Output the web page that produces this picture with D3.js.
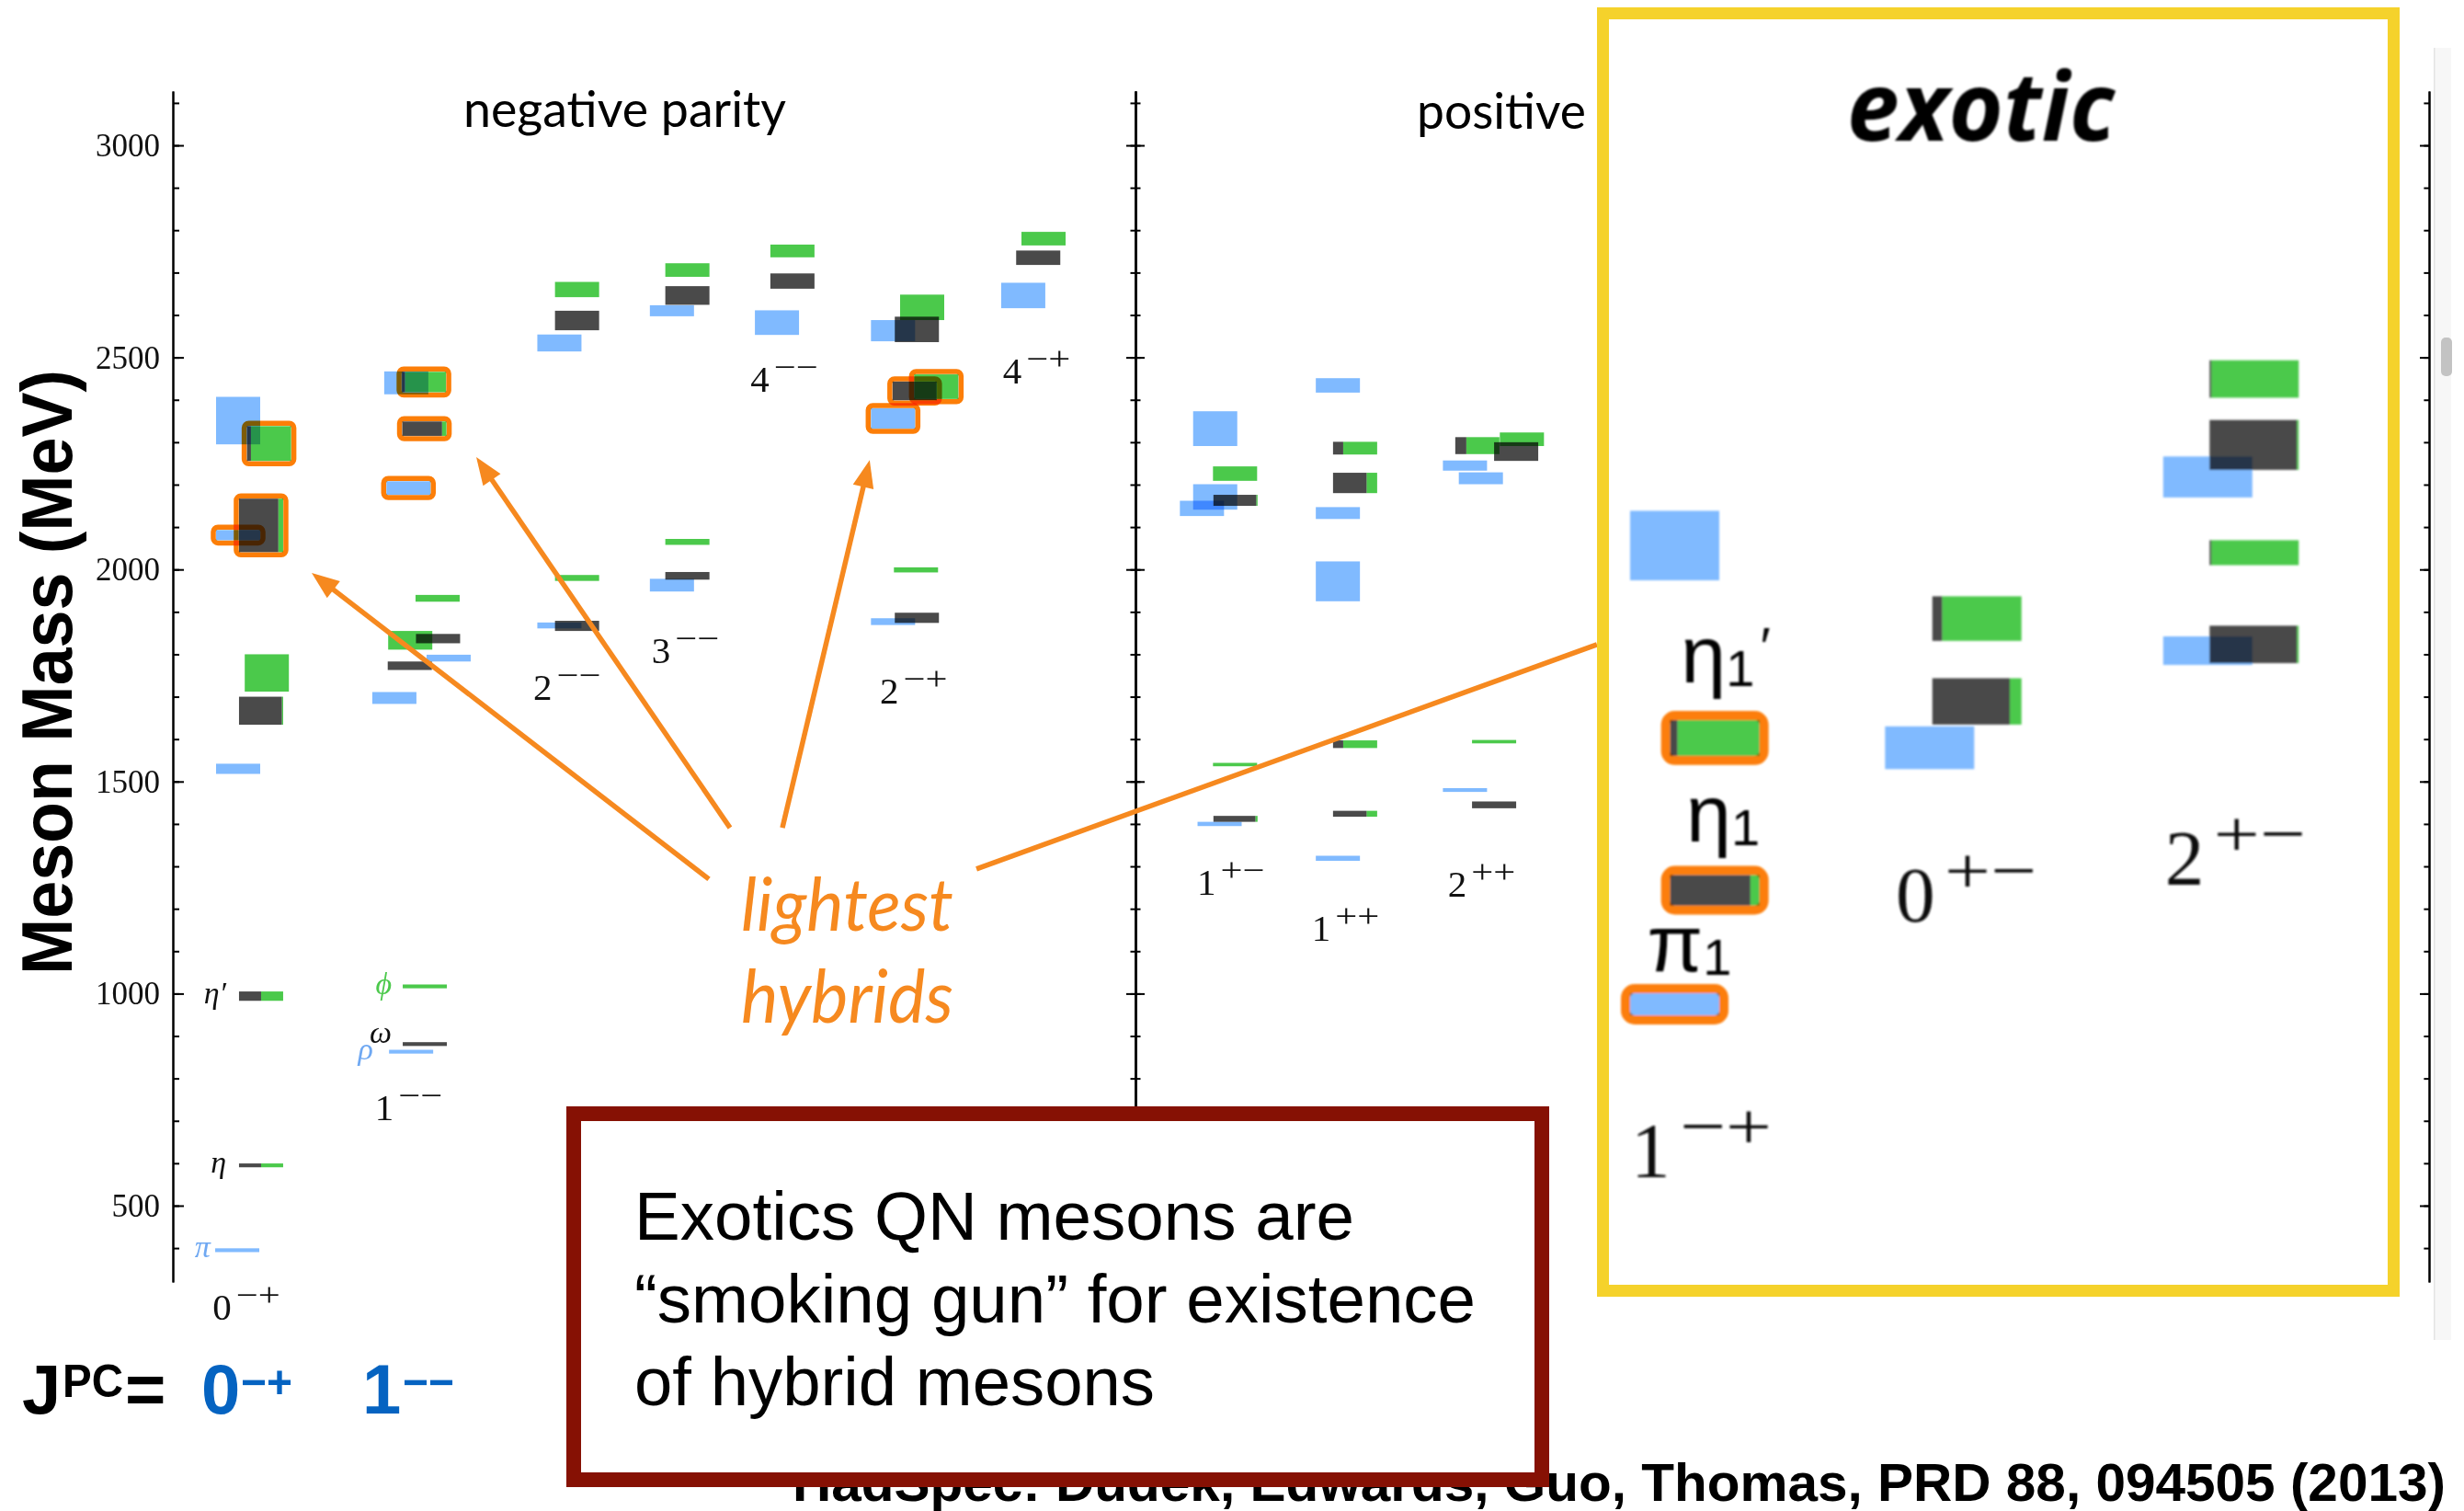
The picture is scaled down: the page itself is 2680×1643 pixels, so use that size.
<!DOCTYPE html>
<html><head><meta charset="utf-8">
<script src="https://cdn.jsdelivr.net/npm/d3@7"></script>
<style>html,body{margin:0;padding:0;background:#fff}svg{display:block}</style>
</head><body>
<svg id="c" width="2680" height="1643"></svg>
<script>
// ---------------- DATA ----------------
const columns   = ["0-+","1--","2--","3--","4--","2-+","4-+","1+-","1++","2++"];
const columnJ   = ["0","1","2","3","4","2","4","1","1","2"];
const columnPC  = ["\u2212+","\u2212\u2212","\u2212\u2212","\u2212\u2212","\u2212\u2212","\u2212+","\u2212+","+\u2212","++","++"];
const columnPos = [0, 3.54, 7.28, 9.83, 12.21, 14.84, 17.79, 21.84, 24.92, 27.80];
const labelMass = [231, 701, 1692, 1779, 2419, 1683, 2438, 1232, 1124, 1228];
const labelLane = [-0.58, -0.44, -0.59, -0.46, -0.6, -0.3, -0.46, -0.11, -0.59, -0.39];
const massTicksMajor = [500, 1000, 1500, 2000, 2500, 3000];
const massTicksMinor = d3.range(400, 3101, 100);

// isovector states (blue): column, mass (MeV), half-height (MeV), lane, hybrid
const isovectors = [
  {c:"0-+", m:395,  e:4.5, lane:-0.02}, {c:"0-+", m:1530, e:12, lane:0},
  {c:"0-+", m:2081, e:12, lane:0, h:1},  {c:"0-+", m:2351, e:56, lane:0},
  {c:"1--", m:863,  e:4.5, lane:0.38},  {c:"1--", m:1697, e:14, lane:0},
  {c:"1--", m:1791, e:8, lane:1.23},    {c:"1--", m:2192, e:16, lane:0.32, h:1},
  {c:"1--", m:2440, e:27, lane:0.27},
  {c:"2--", m:1868, e:7, lane:0},       {c:"2--", m:2534, e:20, lane:0},
  {c:"3--", m:1963, e:15, lane:0},      {c:"3--", m:2610, e:13, lane:0},
  {c:"4--", m:2582, e:29, lane:0},
  {c:"2-+", m:1877, e:8, lane:0},       {c:"2-+", m:2356, e:24, lane:0, h:1},
  {c:"2-+", m:2563, e:25, lane:0},
  {c:"4-+", m:2646, e:30, lane:0},
  {c:"1+-", m:1400, e:5, lane:0.4},     {c:"1+-", m:2144, e:18, lane:0},
  {c:"1+-", m:2171, e:30, lane:0.3},    {c:"1+-", m:2332, e:41, lane:0.3},
  {c:"1++", m:1319, e:6, lane:0},       {c:"1++", m:1972, e:47, lane:0},
  {c:"1++", m:2133, e:14, lane:0},      {c:"1++", m:2434, e:17, lane:0},
  {c:"2++", m:1480, e:4.5, lane:0},     {c:"2++", m:2215, e:14, lane:0.36},
  {c:"2++", m:2245, e:12, lane:0}
];
// isoscalar states: light-quark fraction f (dark) vs strange (green)
const isoscalars = [
  {c:"0-+", m:595,  e:4.5, f:0.5, lane:0.52}, {c:"0-+", m:994,  e:11, f:0.5, lane:0.52},
  {c:"0-+", m:1667, e:33, f:0.97, lane:0.52}, {c:"0-+", m:1756, e:44, f:0, lane:0.65},
  {c:"0-+", m:2104, e:63, f:0.89, lane:0.52, h:1}, {c:"0-+", m:2297, e:41, f:0.09, lane:0.7, h:1},
  {c:"1--", m:881,  e:4.5, f:1, lane:0.69},   {c:"1--", m:1017, e:4.5, f:0, lane:0.69},
  {c:"1--", m:1773, e:10, f:1, lane:0.35},    {c:"1--", m:1833, e:22, f:0, lane:0.36},
  {c:"1--", m:1837, e:11, f:1, lane:0.99},    {c:"1--", m:1932, e:8, f:0, lane:0.98},
  {c:"1--", m:2332, e:17, f:0.9, lane:0.68, h:1}, {c:"1--", m:2442, e:24, f:0.07, lane:0.67, h:1},
  {c:"2--", m:1867, e:12, f:1, lane:0.4},     {c:"2--", m:1980, e:7, f:0, lane:0.4},
  {c:"2--", m:2587, e:23, f:1, lane:0.4},     {c:"2--", m:2660, e:18, f:0, lane:0.4},
  {c:"3--", m:1985, e:9, f:1, lane:0.35},     {c:"3--", m:2065, e:7, f:0, lane:0.35},
  {c:"3--", m:2646, e:22, f:1, lane:0.35},    {c:"3--", m:2706, e:16, f:0, lane:0.35},
  {c:"4--", m:2680, e:18, f:1, lane:0.35},    {c:"4--", m:2751, e:15, f:0, lane:0.35},
  {c:"2-+", m:1886, e:12, f:1, lane:0.54},    {c:"2-+", m:1999, e:6, f:0, lane:0.52},
  {c:"2-+", m:2421, e:22, f:1, lane:0.49, h:1}, {c:"2-+", m:2431, e:29, f:0, lane:0.98, h:1},
  {c:"2-+", m:2566, e:30, f:1, lane:0.54},    {c:"2-+", m:2618, e:30, f:0, lane:0.66},
  {c:"4-+", m:2735, e:17, f:1, lane:0.34},    {c:"4-+", m:2780, e:16, f:0, lane:0.46},
  {c:"1+-", m:1412, e:7, f:0.95, lane:0.76},  {c:"1+-", m:1540, e:4, f:0, lane:0.75},
  {c:"1+-", m:2163, e:13, f:0.97, lane:0.76}, {c:"1+-", m:2226, e:17, f:0, lane:0.75},
  {c:"1++", m:1424, e:7, f:0.76, lane:0.39},  {c:"1++", m:1588, e:9, f:0.23, lane:0.39},
  {c:"1++", m:2204, e:24, f:0.76, lane:0.39}, {c:"1++", m:2286, e:15, f:0.23, lane:0.39},
  {c:"2++", m:1445, e:8, f:1, lane:0.66},     {c:"2++", m:1594, e:4, f:0, lane:0.66},
  {c:"2++", m:2278, e:22, f:1, lane:1.16},    {c:"2++", m:2292, e:20, f:0.25, lane:0.28},
  {c:"2++", m:2307, e:16, f:0, lane:1.29}
];
const groundLabels = [
  {t:"\u03c0", c:"0-+", m:395,  lane:-0.63, col:"#6fa8f2"},
  {t:"\u03b7", c:"0-+", m:595,  lane:-0.27, col:"#111"},
  {t:"\u03b7\u2032", c:"0-+", m:994, lane:-0.27, col:"#111"},
  {t:"\u03c1", c:"1--", m:863,  lane:-0.48, col:"#6fa8f2"},
  {t:"\u03c9", c:"1--", m:881,  lane:-0.06, col:"#111", raised:1},
  {t:"\u03d5", c:"1--", m:1017, lane:-0.06, col:"#4cc94c"}
];

// exotic inset (magnified)
const exoticColumns = ["1-+","0+-","2+-"];
const exoticJ   = ["1","0","2"];
const exoticPC  = ["\u2212+","+\u2212","+\u2212"];
const exoticPos = [0, 2.86, 5.98];
const exoticLabelMass = [1816, 2103, 2144];
const exoticLabelLane = [-0.49, -0.38, -0.48];
const exoticVectors = [
  {c:"1-+", m:2010, e:12.4, lane:0, h:1}, {c:"1-+", m:2525, e:39, lane:0},
  {c:"0+-", m:2298, e:24, lane:0},
  {c:"2+-", m:2407, e:16, lane:0}, {c:"2+-", m:2602, e:23, lane:0}
];
const exoticScalars = [
  {c:"1-+", m:2138, e:17, f:0.9, lane:0.45, h:1}, {c:"1-+", m:2309, e:20, f:0.08, lane:0.45, h:1},
  {c:"0+-", m:2350, e:26, f:0.87, lane:0.53},    {c:"0+-", m:2443, e:25, f:0.11, lane:0.53},
  {c:"2+-", m:2414, e:21, f:0.98, lane:0.52},    {c:"2+-", m:2517, e:14, f:0.02, lane:0.52},
  {c:"2+-", m:2638, e:28, f:0.98, lane:0.52},    {c:"2+-", m:2712, e:21, f:0.02, lane:0.52}
];
const exoticNames = [
  {t:"\u03b7", sub:"1", prime:true,  c:"1-+", m:2371, lane:0.07},
  {t:"\u03b7", sub:"1", prime:false, c:"1-+", m:2193, lane:0.13},
  {t:"\u03c0", sub:"1", prime:false, c:"1-+", m:2047, lane:-0.31}
];
// annotation arrows: [fromLane, fromMass, toLane, toMass, arrowhead]
const arrows = [
  [10.667, 1270, 1.667, 1992, 1],
  [11.146, 1391, 5.396, 2265, 1],
  [12.333, 1391, 14.31, 2258, 1],
  [16.73, 1294, 30.79, 1823, 0]
];

// ---------------- STYLE ----------------
const BLUE="#80baff", DARK="#4a4a4a", GREEN="#4bc94b", ORANGE="#fc7e08", ARROW="#f6891f";
const SERIF="'Liberation Serif','DejaVu Serif',serif";
const SANS="'Liberation Sans',Arial,sans-serif";

const svg = d3.select("#c");
const y = d3.scaleLinear().domain([320, 3128]).range([1394, 99]);
const x = d3.scaleLinear().domain([0, 1]).range([259, 307]);
const mag = 2.02;
const ey = d3.scaleLinear().domain([2010, 3010]).range([1092, 1092 - 1000 * 0.4612 * 2.1]);
const ex = d3.scaleLinear().domain([0, 1]).range([1821.5, 1821.5 + 48 * mag]);

function posOf(c){ const i = columns.indexOf(c); return i >= 0 ? columnPos[i] : exoticPos[exoticColumns.indexOf(c)]; }

function bars(g, xs, ys, vecs, scals, pad, sw, rx){
  const geom = d => {
    const p = posOf(d.c) + d.lane;
    const x0 = xs(p - 0.5), x1 = xs(p + 0.5);
    const y0 = ys(d.m + d.e), y1 = ys(d.m - d.e);
    return {x0, x1, y0, h: Math.max(y1 - y0, 1.5)};
  };
  g.selectAll(null).data(vecs).join("rect")
    .attr("x", d => geom(d).x0).attr("y", d => geom(d).y0)
    .attr("width", d => geom(d).x1 - geom(d).x0).attr("height", d => geom(d).h)
    .attr("fill", BLUE).style("mix-blend-mode", "multiply");
  scals.forEach(d => {
    const q = geom(d), w = q.x1 - q.x0;
    if (d.f > 0) g.append("rect").attr("x", q.x0).attr("y", q.y0).attr("width", w * d.f).attr("height", q.h)
      .attr("fill", DARK).style("mix-blend-mode", "multiply");
    if (d.f < 1) g.append("rect").attr("x", q.x0 + w * d.f).attr("y", q.y0).attr("width", w * (1 - d.f)).attr("height", q.h)
      .attr("fill", GREEN).style("mix-blend-mode", "multiply");
  });
  g.selectAll(null).data(vecs.concat(scals).filter(d => d.h)).join("rect")
    .attr("x", d => geom(d).x0 - pad).attr("y", d => geom(d).y0 - pad)
    .attr("width", d => geom(d).x1 - geom(d).x0 + 2 * pad).attr("height", d => geom(d).h + 2 * pad)
    .attr("rx", rx).attr("fill", "none").attr("stroke", ORANGE).attr("stroke-width", sw)
    .style("mix-blend-mode", "multiply");
}

function jpcLabel(g, px, py, J, PC, s){
  g.append("text").attr("x", px).attr("y", py).attr("font-family", SERIF).attr("font-size", 41 * s)
    .attr("fill", "#111").text(J);
  g.append("text").attr("x", px + 25.5 * s).attr("y", py - 15 * s).attr("font-family", SERIF)
    .attr("font-size", 35 * s).attr("fill", "#111")
    .attr("textLength", 48 * s).attr("lengthAdjust", "spacingAndGlyphs").text(PC);
}

// ---------------- AXES ----------------
function axis(tx, gen, vals, size){
  const a = gen(y).tickValues(vals).tickSize(size).tickSizeOuter(0).tickFormat("");
  const g = svg.append("g").attr("transform", `translate(${tx},0)`).call(a);
  g.selectAll("line,path").attr("stroke", "#000").attr("stroke-width", 2);
}
axis(188, d3.axisRight, massTicksMinor, 7);
axis(188, d3.axisRight, massTicksMajor, 12);
axis(1235, d3.axisLeft, massTicksMinor, 5.5); axis(1235, d3.axisRight, massTicksMinor, 5.5);
axis(1235, d3.axisLeft, massTicksMajor, 10);  axis(1235, d3.axisRight, massTicksMajor, 10);
axis(2642, d3.axisLeft, massTicksMinor, 5.6);
axis(2642, d3.axisLeft, massTicksMajor, 10);

svg.append("g").selectAll("text").data(massTicksMajor).join("text")
  .attr("x", 174).attr("y", d => y(d)).attr("dy", "0.34em").attr("text-anchor", "end")
  .attr("font-family", SERIF).attr("font-size", 35).attr("fill", "#111").text(d => d);

// scrollbar-like strip at right edge
svg.append("rect").attr("x", 2647).attr("y", 52).attr("width", 19).attr("height", 1405).attr("fill", "#f7f7f7");
svg.append("rect").attr("x", 2647).attr("y", 52).attr("width", 1.5).attr("height", 1405).attr("fill", "#e4e4e4");
svg.append("rect").attr("x", 2655).attr("y", 367).attr("width", 12).attr("height", 42).attr("rx", 5).attr("fill", "#c3c3c3");

// axis title
svg.append("text").attr("transform", "translate(78,731) rotate(-90)").attr("text-anchor", "middle")
  .attr("font-family", SANS).attr("font-weight", "bold").attr("font-size", 77)
  .attr("textLength", 658).attr("lengthAdjust", "spacingAndGlyphs").attr("fill", "#000").text("Meson Mass (MeV)");

// section titles
svg.append("text").attr("x", 504).attr("y", 138).attr("font-family", "Lato, 'Open Sans', sans-serif").attr("font-size", 54)
  .attr("textLength", 351).attr("lengthAdjust", "spacingAndGlyphs").attr("fill", "#000").text("negative parity");
svg.append("text").attr("x", 1541).attr("y", 140).attr("font-family", "Lato, 'Open Sans', sans-serif").attr("font-size", 54)
  .attr("textLength", 184).attr("lengthAdjust", "spacingAndGlyphs").attr("fill", "#000").text("positive");

// ---------------- MAIN BARS ----------------
const main = svg.append("g");
bars(main, x, y, isovectors, isoscalars, 3, 5.5, 5);

const lab = svg.append("g");
columns.forEach((c, i) => jpcLabel(lab, x(columnPos[i] + labelLane[i]), y(labelMass[i]), columnJ[i], columnPC[i], 1));
lab.selectAll(null).data(groundLabels).join("text")
  .attr("x", d => x(posOf(d.c) + d.lane)).attr("y", d => y(d.m) + (d.raised ? -1 : 8))
  .attr("text-anchor", "end").attr("font-family", SERIF).attr("font-style", "italic")
  .attr("font-size", 34).attr("fill", d => d.col).text(d => d.t);

// ---------------- ANNOTATIONS ----------------
const ann = svg.append("g");
arrows.forEach(a => {
  const x1 = x(a[0]), y1 = y(a[1]), x2 = x(a[2]), y2 = y(a[3]);
  const L = Math.hypot(x2 - x1, y2 - y1), ux = (x2 - x1) / L, uy = (y2 - y1) / L;
  const hl = a[4] ? 30 : 0;
  ann.append("line").attr("x1", x1).attr("y1", y1).attr("x2", x2 - ux * hl * 0.8).attr("y2", y2 - uy * hl * 0.8)
    .attr("stroke", ARROW).attr("stroke-width", 5.5);
  if (a[4]) {
    const bx = x2 - ux * hl, by = y2 - uy * hl, hw = 11.5;
    ann.append("path").attr("d", `M${x2},${y2}L${bx - uy * hw},${by + ux * hw}L${bx + uy * hw},${by - ux * hw}Z`)
      .attr("fill", ARROW);
  }
});
ann.append("text").attr("x", 806).attr("y", 1012).attr("font-family", "Lato, 'Open Sans', sans-serif")
  .attr("font-style", "italic").attr("font-size", 80).attr("fill", ARROW)
  .attr("textLength", 231).attr("lengthAdjust", "spacingAndGlyphs").text("lightest");
ann.append("text").attr("x", 806).attr("y", 1112).attr("font-family", "Lato, 'Open Sans', sans-serif")
  .attr("font-style", "italic").attr("font-size", 80).attr("fill", ARROW)
  .attr("textLength", 231).attr("lengthAdjust", "spacingAndGlyphs").text("hybrids");

// ---------------- EXOTIC INSET ----------------
svg.append("rect").attr("x", 1743.5).attr("y", 14.5).attr("width", 860).attr("height", 1389)
  .attr("fill", "#fff").attr("stroke", "#f5d22b").attr("stroke-width", 13);
svg.append("defs").append("filter").attr("id", "soft").attr("x", "-5%").attr("y", "-5%").attr("width", "110%").attr("height", "110%")
  .append("feGaussianBlur").attr("stdDeviation", 1.3);
const ins = svg.append("g").attr("filter", "url(#soft)");
ins.append("text").attr("x", 2009).attr("y", 153).attr("font-family", "'Open Sans', Lato, sans-serif")
  .attr("font-weight", "bold").attr("font-style", "italic").attr("font-size", 104)
  .attr("textLength", 291).attr("lengthAdjust", "spacingAndGlyphs").attr("fill", "#000").text("exotic");
bars(ins, ex, ey, exoticVectors, exoticScalars, 5, 10, 10);
exoticColumns.forEach((c, i) => jpcLabel(ins, ex(exoticPos[i] + exoticLabelLane[i]), ey(exoticLabelMass[i]), exoticJ[i], exoticPC[i], 2.08));
exoticNames.forEach(d => {
  const t = ins.append("text").attr("x", ex(posOf(d.c) + d.lane)).attr("y", ey(d.m))
    .attr("font-family", SANS).attr("font-size", 88).attr("fill", "#000");
  t.append("tspan").text(d.t);
  t.append("tspan").attr("font-size", 56).attr("dy", 4).text(d.sub);
  if (d.prime) t.append("tspan").attr("font-size", 60).attr("dy", -22).attr("dx", 6).text("\u2032");
});

// ---------------- RED BOX & CITATION ----------------
svg.append("text").attr("x", 862).attr("y", 1632).attr("font-family", SANS).attr("font-weight", "bold")
  .attr("font-size", 58).attr("textLength", 1798).attr("lengthAdjust", "spacingAndGlyphs").attr("fill", "#000")
  .text("HadSpec: Dudek, Edwards, Guo, Thomas, PRD 88, 094505 (2013)");
svg.append("rect").attr("x", 624).attr("y", 1211).attr("width", 1053).attr("height", 398)
  .attr("fill", "#fff").attr("stroke", "#861104").attr("stroke-width", 16);
const boxLines = ["Exotics QN mesons are", "\u201csmoking gun\u201d for existence", "of hybrid mesons"];
const boxWidths = [783, 915, 566];
svg.append("g").selectAll("text").data(boxLines).join("text")
  .attr("x", 690).attr("y", (d, i) => 1348 + i * 90).attr("font-family", SANS).attr("font-size", 74)
  .attr("textLength", (d, i) => boxWidths[i]).attr("lengthAdjust", "spacingAndGlyphs").attr("fill", "#000").text(d => d);

// ---------------- J^PC legend ----------------
const leg = svg.append("g").attr("font-family", SANS).attr("font-weight", "bold");
leg.append("text").attr("x", 24).attr("y", 1537).attr("font-size", 76).attr("fill", "#000").text("J");
leg.append("text").attr("x", 68).attr("y", 1519).attr("font-size", 50).attr("fill", "#000")
  .attr("textLength", 66).attr("lengthAdjust", "spacingAndGlyphs").text("PC");
leg.append("text").attr("x", 136).attr("y", 1537).attr("font-size", 76).attr("fill", "#000").text("=");
leg.append("text").attr("x", 219).attr("y", 1537).attr("font-size", 76).attr("fill", "#0563c1").text("0");
leg.append("text").attr("x", 262).attr("y", 1520).attr("font-size", 50).attr("fill", "#0563c1")
  .attr("textLength", 56).attr("lengthAdjust", "spacingAndGlyphs").text("\u2212+");
leg.append("text").attr("x", 394).attr("y", 1537).attr("font-size", 76).attr("fill", "#0563c1").text("1");
leg.append("text").attr("x", 438).attr("y", 1520).attr("font-size", 50).attr("fill", "#0563c1")
  .attr("textLength", 56).attr("lengthAdjust", "spacingAndGlyphs").text("\u2212\u2212");
</script>
</body></html>
